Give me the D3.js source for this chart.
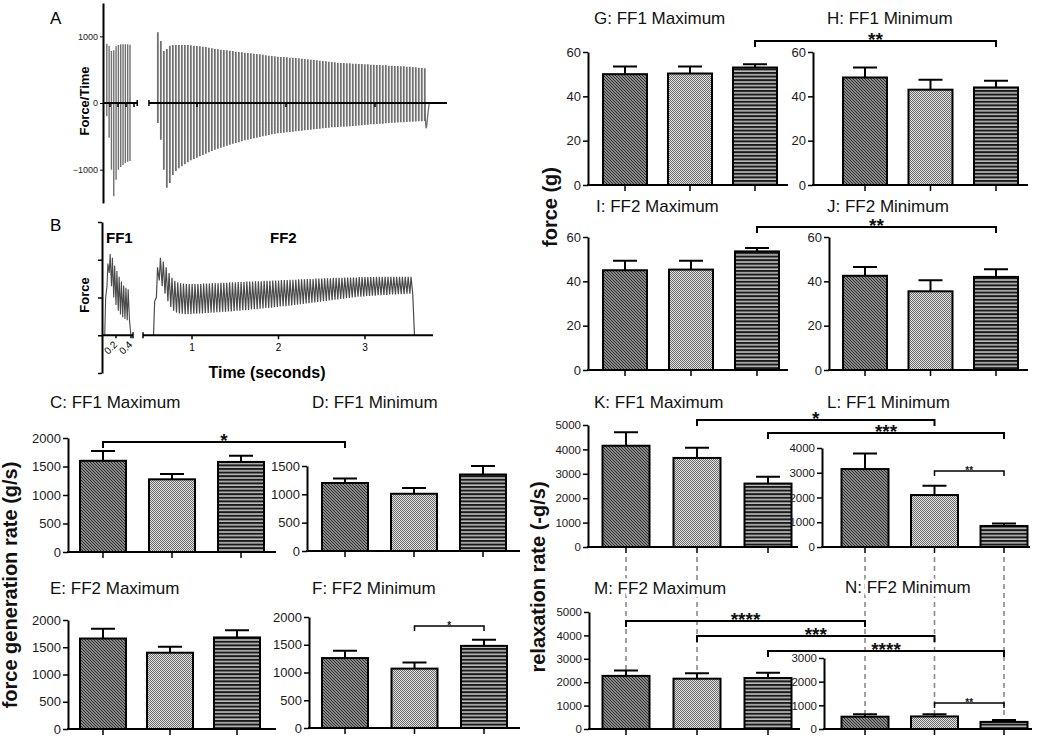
<!DOCTYPE html>
<html><head><meta charset="utf-8">
<script src="https://cdn.jsdelivr.net/npm/d3@7"></script>
<style>
body{margin:0;background:#fff;}
svg{font-family:"Liberation Sans",Arial,Helvetica,sans-serif;}
</style></head><body>
<svg id="c" width="1050" height="736"></svg>
<script>
// ---------------- DATA ----------------
const groups = ["g1","g2","g3"];
// force generation rate (g/s)
const C_mean=[1600,1275,1580], C_err=[170,95,110];
const D_mean=[1200,1010,1350], D_err=[80,100,150];
const E_mean=[1660,1400,1680], E_err=[180,110,130];
const F_mean=[1260,1070,1480], F_err=[130,110,110];
// force (g)
const G_mean=[50,50.3,53], G_err=[3.5,3.2,1.5];
const H_mean=[48.5,43,44], H_err=[4.5,4.5,3];
const I_mean=[45,45.3,53.5], I_err=[4.3,4,1.5];
const J_mean=[42.5,35.5,42], J_err=[4,5,3.5];
// relaxation rate (-g/s)
const K_mean=[4150,3650,2600], K_err=[550,420,280];
const L_mean=[3150,2100,850], L_err=[630,370,100];
const M_mean=[2270,2150,2180], M_err=[230,230,220];
const N_mean=[520,530,300], N_err=[100,90,80];

const ticksGen2000=[0,500,1000,1500,2000], ticksGen1500=[0,500,1000,1500];
const ticksForce=[0,20,40,60];
const ticks5000=[0,1000,2000,3000,4000,5000], ticks4000=[0,1000,2000,3000,4000], ticks3000=[0,1000,2000,3000];
const ticksA=[-1000,0,1000];
const ticksB1=[0.2,0.4], ticksB2=[1,2,3];

const titles = {C:"C: FF1 Maximum",D:"D: FF1 Minimum",E:"E: FF2 Maximum",F:"F: FF2 Minimum",
  G:"G: FF1 Maximum",H:"H: FF1 Minimum",I:"I: FF2 Maximum",J:"J: FF2 Minimum",
  K:"K: FF1 Maximum",L:"L: FF1 Minimum",M:"M: FF2 Maximum",N:"N: FF2 Minimum"};

const sigBrackets = [
 {from:["C",0],to:["D",0],level:1930,label:"*",small:false},
 {from:["F",1],to:["F",2],level:1838,label:"*",small:true},
 {from:["G",2],to:["H",2],level:65,label:"**",small:false},
 {from:["I",2],to:["J",2],level:64.5,label:"**",small:false},
 {from:["K",1],to:["L",1],level:5205,label:"*",small:false},
 {from:["K",2],to:["L",2],level:4672,label:"***",small:false},
 {from:["L",1],to:["L",2],level:3070,label:"**",small:true},
 {from:["M",0],to:["N",0],level:4615,label:"****",small:false},
 {from:["M",1],to:["N",1],level:3974,label:"***",small:false},
 {from:["M",2],to:["N",2],level:3333,label:"****",small:false},
 {from:["N",1],to:["N",2],level:1098,label:"**",small:true}
];
const dashLinks = [[["K",0],["M",0]],[["K",1],["M",1]],[["L",0],["N",0]],[["L",1],["N",1]],[["L",2],["N",2]]];

// Trace A (force/time), per-pulse peaks
const A_ff1_up=[890,860,780,790,850,870,880,880,880,880,875];
const A_ff1_lo=[-200,-520,-1000,-1400,-1150,-1000,-960,-930,-900,-880,-870];
const A_ff2_up=[1060,930,780,810,860,870,870,870,870,870,
 870,865,860,855,850,845,840,830,820,810,
 805,800,795,790,785,780,770,765,760,755,
 750,745,740,735,730,725,715,710,705,700,
 695,690,690,685,680,680,675,670,665,660,
 655,650,645,640,635,630,625,620,615,610,
 605,600,600,595,595,590,590,585,585,580,
 580,575,575,570,570,565,565,560,560,555,
 555,550,550,545,545,540,535,530,525,520];
const A_ff2_lo=[-300,-550,-1000,-1270,-1200,-1080,-1020,-980,-950,-920,
 -890,-860,-840,-820,-800,-780,-760,-740,-720,-700,
 -685,-670,-655,-640,-625,-610,-600,-590,-575,-560,
 -550,-540,-530,-520,-510,-500,-490,-480,-470,-460,
 -455,-450,-445,-440,-435,-430,-425,-420,-415,-410,
 -405,-400,-395,-390,-385,-380,-375,-370,-365,-362,
 -360,-358,-355,-352,-350,-345,-340,-338,-335,-330,
 -325,-320,-318,-315,-312,-310,-305,-300,-298,-295,
 -292,-290,-288,-285,-282,-280,-278,-275,-272,-270];
const A_ff2_tail=[[3.56,0],[3.572,-500],[3.59,-200],[3.61,0]];
// Trace B (force), per-pulse peaks / troughs
const B_ff1_up=[1.0,1.9,2.15,2.05,1.85,1.7,1.55,1.42,1.32,1.26,1.22];
const B_ff1_lo=[0.0,1.3,1.65,1.3,1.0,0.8,0.65,0.55,0.48,0.43,0.40];
const B_ff2_up=[0.9,1.8,2.05,1.95,1.8,1.65,1.52,1.44,1.40,1.38,
 1.37,1.36,1.36,1.36,1.36,1.36,1.36,1.37,1.37,1.37,
 1.38,1.38,1.38,1.39,1.39,1.39,1.40,1.40,1.40,1.41,
 1.41,1.41,1.42,1.42,1.42,1.43,1.43,1.43,1.44,1.44,
 1.44,1.45,1.45,1.45,1.46,1.46,1.46,1.47,1.47,1.47,
 1.48,1.48,1.48,1.49,1.49,1.49,1.50,1.50,1.50,1.51,
 1.51,1.51,1.52,1.52,1.52,1.52,1.53,1.53,1.53,1.53,
 1.53,1.54,1.54,1.54,1.54,1.54,1.54,1.55,1.55,1.55,
 1.55,1.55,1.55,1.55,1.55,1.55,1.55,1.55,1.55,1.55];
const B_ff2_lo=[0.0,1.0,1.45,1.3,1.1,0.9,0.75,0.65,0.6,0.58,
 0.57,0.56,0.56,0.56,0.57,0.57,0.58,0.58,0.59,0.59,
 0.60,0.60,0.61,0.61,0.62,0.62,0.63,0.63,0.64,0.65,
 0.65,0.66,0.66,0.67,0.68,0.69,0.69,0.70,0.71,0.72,
 0.72,0.73,0.74,0.75,0.76,0.77,0.77,0.78,0.79,0.80,
 0.81,0.82,0.83,0.84,0.85,0.86,0.87,0.88,0.89,0.90,
 0.91,0.92,0.93,0.94,0.95,0.96,0.97,0.98,0.99,1.00,
 1.01,1.02,1.02,1.03,1.04,1.04,1.05,1.05,1.06,1.06,
 1.07,1.07,1.08,1.08,1.08,1.09,1.09,1.09,1.10,1.10];
const ff1Start=0.06, ff1Period=0.029, ff2Start=0.56, ff2Period=0.0337;

// ---------------- LAYOUT ----------------
const layout = {
 C:{ax:68, xEnd:276, c0:103, c2:241, y0:552, yTop:438, max:2000, bw:46, fs:13},
 D:{ax:307,xEnd:520, c0:345, c2:483, y0:551, yTop:466, max:1500, bw:46, fs:13},
 E:{ax:68, xEnd:276, c0:103, c2:237, y0:729, yTop:620, max:2000, bw:46, fs:13},
 F:{ax:309,xEnd:520, c0:345, c2:484, y0:728, yTop:617, max:2000, bw:46, fs:13},
 G:{ax:588,xEnd:788, c0:625, c2:755, y0:185, yTop:52, max:60, bw:44, fs:13},
 H:{ax:813,xEnd:1028,c0:865, c2:996, y0:185, yTop:52, max:60, bw:44, fs:13},
 I:{ax:588,xEnd:788, c0:625, c2:757, y0:370, yTop:237, max:60, bw:44, fs:13},
 J:{ax:829,xEnd:1028,c0:865, c2:996, y0:370, yTop:237, max:60, bw:44, fs:13},
 K:{ax:588,xEnd:798, c0:626, c2:768, y0:547, yTop:425, max:5000, bw:47, fs:11.5},
 L:{ax:822,xEnd:1030,c0:865, c2:1004,y0:547, yTop:448, max:4000, bw:47, fs:11.5},
 M:{ax:589,xEnd:800, c0:626, c2:768, y0:729, yTop:612, max:5000, bw:47, fs:11.5},
 N:{ax:824,xEnd:1032,c0:865, c2:1004,y0:729, yTop:658, max:3000, bw:47, fs:11.5}
};
const titlePos = {C:[50,402],D:[312,402],E:[50,588],F:[312,588],G:[594,18],H:[827,18],
 I:[596,206],J:[827,206],K:[594,402],L:[827,402],M:[594,588],N:[845,587]};

const svg = d3.select("#c");
const defs = svg.append("defs");
// patterns
const p0 = defs.append("pattern").attr("id","p0").attr("patternUnits","userSpaceOnUse").attr("width",3).attr("height",3);
p0.append("rect").attr("width",3).attr("height",3).attr("fill","#b8b8b8");
p0.append("path").attr("d","M-1,-1L4,4M-1,2L1,4M2,-1L4,1").attr("stroke","#262626").attr("stroke-width",1.2);
const p1 = defs.append("pattern").attr("id","p1").attr("patternUnits","userSpaceOnUse").attr("width",2).attr("height",2);
p1.append("rect").attr("width",2).attr("height",2).attr("fill","#e4e4e4");
p1.append("rect").attr("width",1).attr("height",1).attr("fill","#6a6a6a");
p1.append("rect").attr("x",1).attr("y",1).attr("width",1).attr("height",1).attr("fill","#6a6a6a");
const p2 = defs.append("pattern").attr("id","p2").attr("patternUnits","userSpaceOnUse").attr("width",4).attr("height",3.6);
p2.append("rect").attr("width",4).attr("height",3.6).attr("fill","#bdbdbd");
p2.append("rect").attr("width",4).attr("height",2).attr("fill","#1a1a1a");

const panelData = {C:[C_mean,C_err,ticksGen2000],D:[D_mean,D_err,ticksGen1500],E:[E_mean,E_err,ticksGen2000],F:[F_mean,F_err,ticksGen2000],
 G:[G_mean,G_err,ticksForce],H:[H_mean,H_err,ticksForce],I:[I_mean,I_err,ticksForce],J:[J_mean,J_err,ticksForce],
 K:[K_mean,K_err,ticks5000],L:[L_mean,L_err,ticks4000],M:[M_mean,M_err,ticks5000],N:[N_mean,N_err,ticks3000]};

const scales = {};
const gDash = svg.append("g");
const gTitles = svg.append("g");
const gPanels = svg.append("g");
const gSig = svg.append("g");

Object.keys(panelData).forEach(id=>{
  const [means, errs, ticks] = panelData[id];
  const L = layout[id];
  const y = d3.scaleLinear().domain([0,L.max]).range([L.y0,L.yTop]);
  const x = d3.scalePoint().domain(groups).range([L.c0,L.c2]);
  scales[id]={x,y,means,errs};
  const g = gPanels.append("g");
  g.selectAll("path.err").data(means).join("path")
    .attr("d",(d,i)=>{const cx=x(groups[i]), yt=y(d+errs[i]);
       return `M${cx},${y(d)}V${yt}M${cx-12},${yt}H${cx+12}`;})
    .attr("stroke","#000").attr("stroke-width",2).attr("fill","none");
  g.selectAll("rect.bar").data(means).join("rect")
    .attr("x",(d,i)=>x(groups[i])-L.bw/2).attr("width",L.bw)
    .attr("y",d=>y(d)).attr("height",d=>L.y0-y(d))
    .attr("fill",(d,i)=>`url(#p${i})`).attr("stroke","#000").attr("stroke-width",2);
  const ga = g.append("g").attr("transform",`translate(${L.ax},0)`)
    .call(d3.axisLeft(y).tickValues(ticks).tickSize(5).tickSizeOuter(0).tickPadding(2).tickFormat(d3.format("d")));
  ga.select(".domain").attr("stroke","#000").attr("stroke-width",2);
  ga.selectAll(".tick line").attr("stroke","#000").attr("stroke-width",1.5);
  ga.selectAll(".tick text").attr("font-size",L.fs).attr("fill","#1a1a1a").attr("font-family","Liberation Sans, Arial, sans-serif");
  g.append("line").attr("x1",L.ax-1).attr("x2",L.xEnd).attr("y1",L.y0).attr("y2",L.y0)
    .attr("stroke","#000").attr("stroke-width",2);
  g.selectAll("line.xt").data(groups).join("line").attr("class","xt")
    .attr("x1",d=>x(d)).attr("x2",d=>x(d)).attr("y1",L.y0).attr("y2",L.y0+6)
    .attr("stroke","#000").attr("stroke-width",1.5);
});

// dashed connector lines
dashLinks.forEach(([a,b])=>{
  const sa=scales[a[0]], sb=scales[b[0]];
  const xx = sa.x(groups[a[1]]);
  const y1 = layout[a[0]].y0+10;
  const y2 = sb.y(sb.means[b[1]]+sb.errs[b[1]]);
  gDash.append("line").attr("x1",xx).attr("x2",xx).attr("y1",y1).attr("y2",y2)
    .attr("stroke","#8a8a8a").attr("stroke-width",1.6).attr("stroke-dasharray","5,4");
});

// titles
Object.keys(titles).forEach(id=>{
  gTitles.append("text").attr("x",titlePos[id][0]).attr("y",titlePos[id][1])
    .attr("dominant-baseline","central").attr("font-size",17).attr("fill","#111")
    .attr("stroke","#fff").attr("stroke-width",7).attr("paint-order","stroke").attr("stroke-linejoin","round")
    .text(titles[id]);
});

// significance brackets
sigBrackets.forEach(b=>{
  const sf=scales[b.from[0]], st=scales[b.to[0]];
  const x1=sf.x(groups[b.from[1]]), x2=st.x(groups[b.to[1]]);
  const yy=sf.y(b.level);
  const drop=b.small?5:6;
  gSig.append("path").attr("d",`M${x1},${yy+drop}V${yy}H${x2}V${yy+drop}`)
    .attr("fill","none").attr("stroke","#000").attr("stroke-width",b.small?1.5:2);
  gSig.append("text").attr("x",(x1+x2)/2).attr("y",b.small?yy+3:yy+5)
    .attr("text-anchor","middle").attr("font-weight","bold")
    .attr("font-size",b.small?10:19).attr("fill","#111").text(b.label);
});

// axis titles
function vlabel(txt,x,y,fs){
  svg.append("text").attr("transform",`translate(${x},${y}) rotate(-90)`)
    .attr("text-anchor","middle").attr("font-weight","bold").attr("font-size",fs).attr("fill","#111").text(txt);
}
vlabel("force generation rate (g/s)",17,585,20);
vlabel("force (g)",557,207,20);
vlabel("relaxation rate (-g/s)",545,577,20);

// ---------------- PANEL A ----------------
const gA = svg.append("g");
gA.append("text").attr("x",50).attr("y",18).attr("dominant-baseline","central").attr("font-size",17).text("A");
const yA = d3.scaleLinear().domain([-1500,1500]).range([203,3]);
const xA1 = d3.scaleLinear().domain([0,0.4]).range([102,134]);
const xA2 = d3.scaleLinear().domain([1,3]).range([197,375]);
function pulseLines(ups,los,start,period,xs,ys){
  let d="";
  ups.forEach((u,i)=>{const xx=xs(start+i*period); d+=`M${xx},${ys(u)}V${ys(los[i])}`;});
  return d;
}
gA.append("path").attr("d",pulseLines(A_ff1_up,A_ff1_lo,ff1Start,ff1Period,xA1,yA))
  .attr("stroke","#707070").attr("stroke-width",1.4).attr("fill","none");
gA.append("path").attr("d",pulseLines(A_ff2_up,A_ff2_lo,ff2Start,ff2Period,xA2,yA))
  .attr("stroke","#707070").attr("stroke-width",1.8).attr("fill","none");
gA.append("path").attr("d",d3.line().x(d=>xA2(d[0])).y(d=>yA(d[1])).curve(d3.curveBasis)(A_ff2_tail))
  .attr("stroke","#6e6e6e").attr("stroke-width",1.3).attr("fill","none");
const gAy = gA.append("g").attr("transform","translate(103,0)")
  .call(d3.axisLeft(yA).tickValues(ticksA).tickSize(3).tickSizeOuter(0).tickPadding(2).tickFormat(d3.format("d")));
gAy.select(".domain").attr("stroke","#000").attr("stroke-width",2);
gAy.selectAll(".tick text").attr("font-size",9).attr("fill","#222");
gA.append("line").attr("x1",103).attr("x2",xA1(0.44)).attr("y1",yA(0)).attr("y2",yA(0)).attr("stroke","#000").attr("stroke-width",2);
gA.append("line").attr("x1",xA2(0.46)).attr("x2",447).attr("y1",yA(0)).attr("y2",yA(0)).attr("stroke","#000").attr("stroke-width",2);
[0.1,0.2,0.3,0.4].forEach(t=>gA.append("line").attr("x1",xA1(t)).attr("x2",xA1(t)).attr("y1",yA(0)).attr("y2",yA(0)+4).attr("stroke","#000").attr("stroke-width",1.5));
ticksB2.forEach(t=>gA.append("line").attr("x1",xA2(t)).attr("x2",xA2(t)).attr("y1",yA(0)).attr("y2",yA(0)+4).attr("stroke","#000").attr("stroke-width",1.5));
[xA1(0.44),xA2(0.46)].forEach(xx=>gA.append("line").attr("x1",xx).attr("x2",xx).attr("y1",yA(0)-3).attr("y2",yA(0)+3).attr("stroke","#000").attr("stroke-width",1.5));
gA.append("text").attr("transform","translate(89,101) rotate(-90)").attr("text-anchor","middle")
  .attr("font-weight","bold").attr("font-size",13).text("Force/Time");

// ---------------- PANEL B ----------------
const gB = svg.append("g");
gB.append("text").attr("x",50).attr("y",225).attr("dominant-baseline","central").attr("font-size",17).text("B");
const yB = d3.scaleLinear().domain([-1,3]).range([373,222]);
const xB1 = d3.scaleLinear().domain([0,0.4]).range([101,131]);
const xB2 = d3.scaleLinear().domain([1,3]).range([192,365]);
function forceTrace(ups,los,start,period){
  const pts=[[start-0.004,0]];
  ups.forEach((u,i)=>{const t=start+i*period; pts.push([t,los[i]]); pts.push([t+period*0.4,u]);});
  const tl=start+(ups.length-1)*period;
  pts.push([tl+period,los[los.length-1]]);
  pts.push([tl+period*1.6,0]);
  return pts;
}
const lineB1 = d3.line().x(d=>xB1(d[0])).y(d=>yB(d[1]));
const lineB2 = d3.line().x(d=>xB2(d[0])).y(d=>yB(d[1]));
gB.append("path").attr("d",lineB1(forceTrace(B_ff1_up,B_ff1_lo,0.05,0.03)))
  .attr("stroke","#4a4a4a").attr("stroke-width",1.1).attr("fill","none");
gB.append("path").attr("d",lineB2(forceTrace(B_ff2_up,B_ff2_lo,0.555,0.0333)))
  .attr("stroke","#4a4a4a").attr("stroke-width",1.2).attr("fill","none");
const gBy = gB.append("g").attr("transform","translate(102,0)")
  .call(d3.axisLeft(yB).tickValues([-1,0,1,2,3]).tickSize(4).tickSizeOuter(0).tickFormat(""));
gBy.select(".domain").attr("stroke","#000").attr("stroke-width",2);
gBy.selectAll(".tick line").attr("stroke-width",1.5);
gB.append("line").attr("x1",102).attr("x2",133).attr("y1",yB(0)).attr("y2",yB(0)).attr("stroke","#000").attr("stroke-width",2);
gB.append("line").attr("x1",143).attr("x2",433).attr("y1",yB(0)).attr("y2",yB(0)).attr("stroke","#000").attr("stroke-width",2);
[133,143].forEach(xx=>gB.append("line").attr("x1",xx).attr("x2",xx).attr("y1",yB(0)-3).attr("y2",yB(0)+3).attr("stroke","#000").attr("stroke-width",1.5));
ticksB2.forEach(t=>{
  gB.append("line").attr("x1",xB2(t)).attr("x2",xB2(t)).attr("y1",yB(0)).attr("y2",yB(0)+4).attr("stroke","#000").attr("stroke-width",1.5);
  gB.append("text").attr("x",xB2(t)).attr("y",yB(0)+12).attr("text-anchor","middle").attr("dominant-baseline","central").attr("font-size",10).text(t);
});
ticksB1.forEach(t=>{
  gB.append("line").attr("x1",xB1(t)).attr("x2",xB1(t)).attr("y1",yB(0)).attr("y2",yB(0)+3).attr("stroke","#000").attr("stroke-width",1.5);
  gB.append("text").attr("transform",`translate(${xB1(t)+2},${yB(0)+10}) rotate(-45)`).attr("text-anchor","end").attr("font-size",10).text(t);
});
gB.append("text").attr("transform","translate(89,295) rotate(-90)").attr("text-anchor","middle")
  .attr("font-weight","bold").attr("font-size",13).text("Force");
gB.append("text").attr("x",106).attr("y",237).attr("dominant-baseline","central").attr("font-weight","bold").attr("font-size",15).text("FF1");
gB.append("text").attr("x",270).attr("y",237).attr("dominant-baseline","central").attr("font-weight","bold").attr("font-size",15).text("FF2");
gB.append("text").attr("x",267).attr("y",372).attr("text-anchor","middle").attr("dominant-baseline","central").attr("font-weight","bold").attr("font-size",16).text("Time (seconds)");
</script>
</body></html>
